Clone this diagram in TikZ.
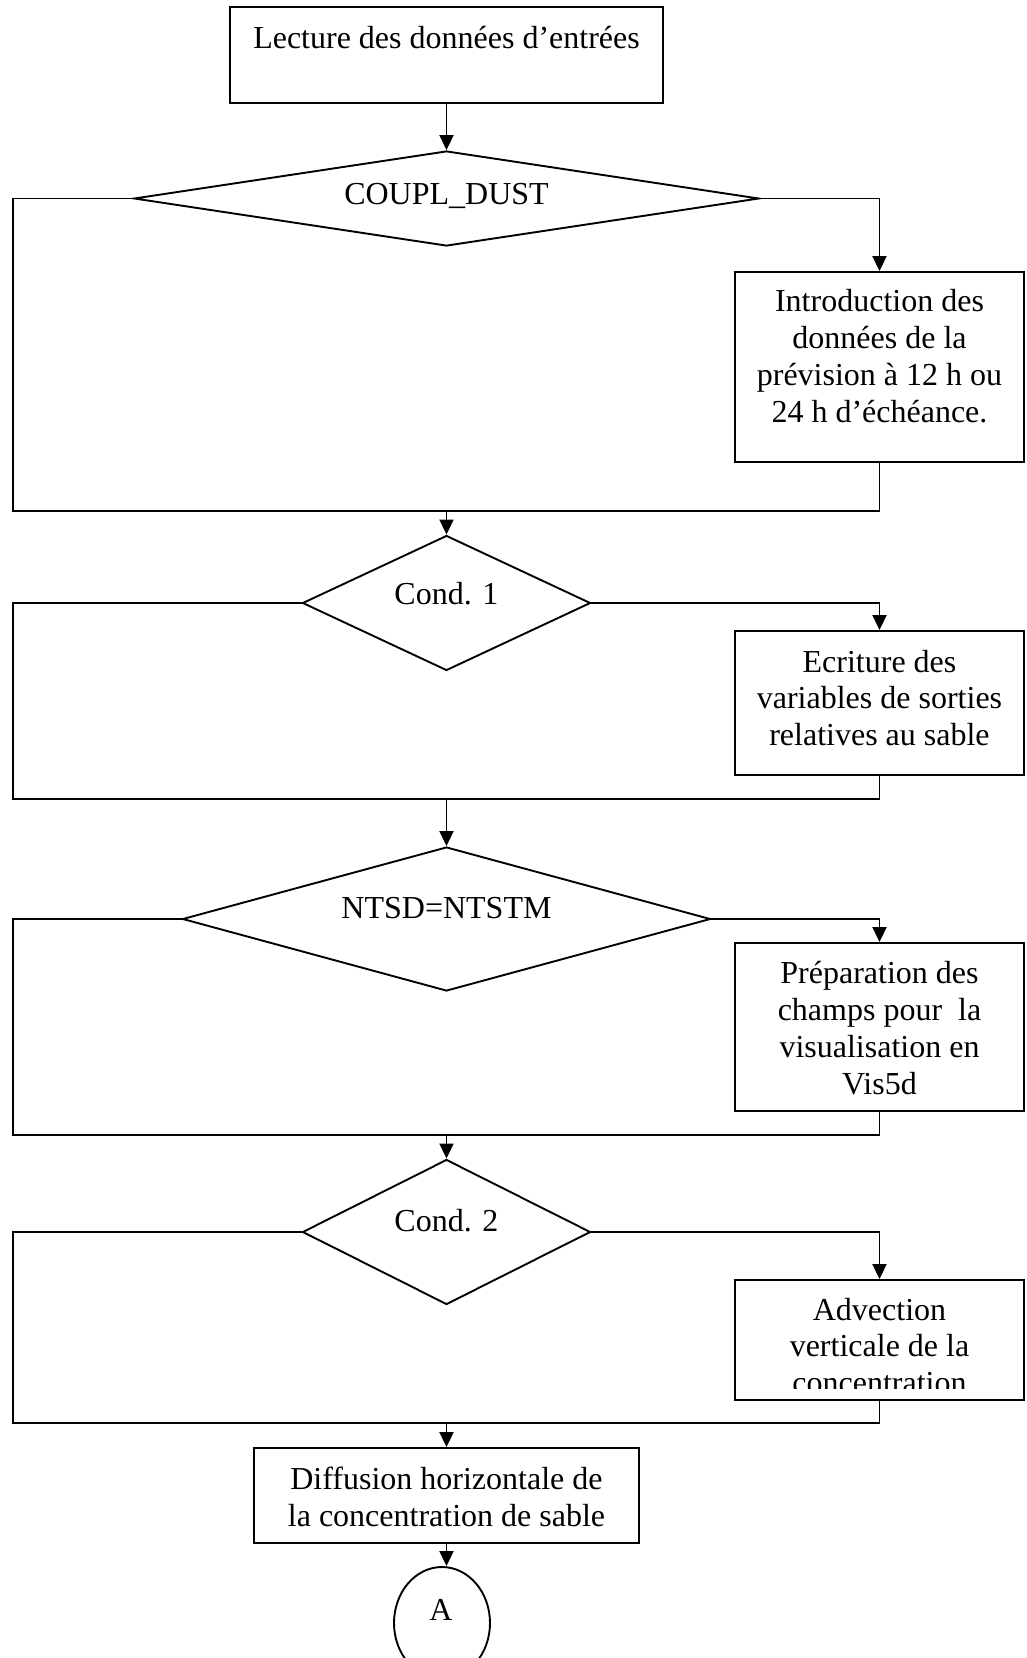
\documentclass[tikz,border=0pt]{standalone}
\usepackage{fontspec}
\setmainfont{Liberation Serif}
\usetikzlibrary{shapes.geometric,arrows.meta}

\begin{document}
\begin{tikzpicture}[x=1pt,y=-1pt,line width=1.9pt,
  txt/.style={font=\fontsize{32}{36.8}\selectfont,align=center,inner sep=0pt},
  stepbox/.style={draw,rectangle,inner sep=0pt},
  cond/.style={draw,diamond,inner sep=0pt},
  arr/.style={-{Triangle[length=15pt,width=14pt]}}]

% page frame
\useasboundingbox (0,0) rectangle (1026,1658);

% ---- reading of the inputs
\node[stepbox,minimum width=433pt,minimum height=96pt] (lect) at (446.5,55) {};
\node[txt] (lectT) at (446.5,38) {Lecture des données d’entrées};

% ---- first test
\node[cond,minimum width=625pt,minimum height=95pt] (d1) at (446.5,198.5) {};
\node[txt] (d1T) at (446.5,196) {COUPL\_DUST};
\node[stepbox,minimum width=289pt,minimum height=190pt] (b1) at (879.5,367) {};
\node[txt] (b1T) at (879.5,356) {Introduction des\\données de la\\prévision à 12 h ou\\24 h d’échéance.};

% ---- second test
\node[cond,minimum width=288pt,minimum height=135pt] (d2) at (446.5,603) {};
\node[txt] (d2T) at (446.5,594) {Cond. 1};
\node[stepbox,minimum width=289pt,minimum height=144pt] (b2) at (879.5,703) {};
\node[txt] (b2T) at (879.5,698) {Ecriture des\\variables de sorties\\relatives au sable};

% ---- third test
\node[cond,minimum width=528pt,minimum height=144pt] (d3) at (446.5,919) {};
\node[txt] (d3T) at (446.5,908) {NTSD=NTSTM};
\node[stepbox,minimum width=289pt,minimum height=168pt] (b3) at (879.5,1027) {};
\node[txt] (b3T) at (879.5,1028) {Préparation des\\champs pour\ \ la\\visualisation en\\Vis5d};

% ---- fourth test
\node[cond,minimum width=288pt,minimum height=145pt] (d4) at (446.5,1232) {};
\node[txt] (d4T) at (446.5,1221) {Cond. 2};
\node[stepbox,minimum width=289pt,minimum height=120pt] (b4) at (879.5,1340) {};
\begin{scope}
  \clip (735,1280) rectangle (1024,1388);
  \node[txt] (b4T) at (879.5,1346) {Advection\\verticale de la\\concentration};
\end{scope}

% ---- horizontal diffusion and connector
\node[stepbox,minimum width=385pt,minimum height=95pt] (diff) at (446.5,1495.5) {};
\node[txt] (diffT) at (446.5,1497) {Diffusion horizontale de\\la concentration de sable};
\node[draw,ellipse,inner sep=0pt,minimum width=96pt,minimum height=112pt] (conA) at (442,1623) {};
\node[txt] (conAT) at (441,1610) {A};

% ---- junction points of the branches
\coordinate (L1) at (13,511);   \coordinate (J1) at (446.5,511);
\coordinate (L2) at (13,799);   \coordinate (J2) at (446.5,799);
\coordinate (L3) at (13,1135);  \coordinate (J3) at (446.5,1135);
\coordinate (L4) at (13,1423);  \coordinate (J4) at (446.5,1423);

% ---- connectors
\draw[arr] (lect.south) -- (d1.north);

\draw[arr] (d1.east) -| (b1.north);
\draw (d1.west) -| (L1) -| (b1.south);
\draw[arr] (J1) -- (d2.north);

\draw[arr] (d2.east) -| (b2.north);
\draw (d2.west) -| (L2) -| (b2.south);
\draw[arr] (J2) -- (d3.north);

\draw[arr] (d3.east) -| (b3.north);
\draw (d3.west) -| (L3) -| (b3.south);
\draw[arr] (J3) -- (d4.north);

\draw[arr] (d4.east) -| (b4.north);
\draw (d4.west) -| (L4) -| (b4.south);
\draw[arr] (J4) -- (diff.north);

\draw[arr] (diff.south) -- (diff.south |- conA.north);
\end{tikzpicture}
\end{document}
